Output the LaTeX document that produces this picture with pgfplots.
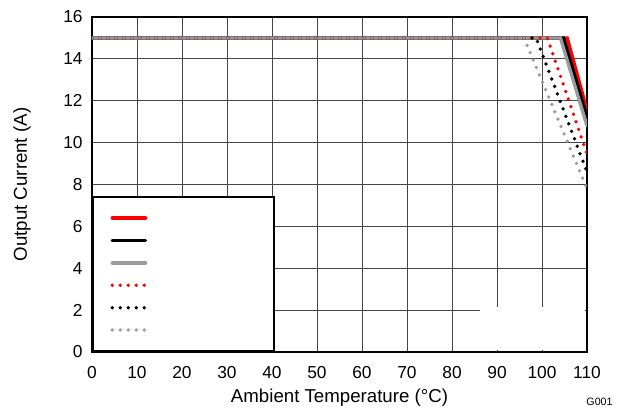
\documentclass[border=0pt]{standalone}
\usepackage{fontspec}
\setmainfont{Liberation Sans}
\usepackage{pgfplots}
\pgfplotsset{compat=1.18}
\definecolor{tigray}{RGB}{155,155,155}
\definecolor{gridc}{RGB}{70,70,70}
\begin{document}
\begin{tikzpicture}
\begin{axis}[
  scale only axis,
  width=371.25pt, height=251.25pt,
  xmin=0, xmax=110, ymin=0, ymax=16,
  xtick={0,10,...,110}, ytick={0,2,...,16},
  grid=major,
  grid style={gridc, line width=0.6pt},
  major tick length=0pt,
  axis line style={line width=1.6pt},
  /pgf/number format/assume math mode=true,
  tick label style={font=\fontsize{13}{15}\selectfont},
  xticklabel style={yshift=-7pt},
  yticklabel style={xshift=-3.5pt},
  label style={font=\fontsize{14}{16}\selectfont},
  xlabel={Ambient Temperature (°C)},
  ylabel={Output Current (A)},
  xlabel style={at={(axis description cs:0.5,-0.1373)}, anchor=center},
  ylabel style={at={(axis description cs:-0.1414,0.5)}, anchor=center},
  legend style={at={(axis cs:0,0)}, anchor=south west, draw=black, line width=1.6pt,
    fill=white, inner xsep=13pt, inner ysep=7.25pt, column sep=0pt, row sep=0pt,
    nodes={inner sep=0pt, text width=81.75pt, minimum height=16.8pt}},
  legend cell align=left,
  legend image code/.code={\draw[#1] (0pt,0pt) -- (25pt,0pt);},
  every axis plot/.append style={line width=2.5pt},
]
\fill[white] (axis cs:86.2,0.08) rectangle (axis cs:109.6,2.15);
\addplot[red, line cap=round] coordinates {(0,15) (105.6,15) (110,11.55)};
\addlegendentry{}
\addplot[black, line cap=round] coordinates {(0,15) (104.8,15) (110,11.2)};
\addlegendentry{}
\addplot[tigray, line cap=round] coordinates {(0,15) (104.1,15) (110,10.8)};
\addlegendentry{}
\addplot[red, line cap=round, line width=2.8pt, dash pattern=on 0pt off 6pt] coordinates {(0,15) (101.2,15) (110,9.45)};
\addlegendentry{}
\addplot[black, line cap=round, line width=2.8pt, dash pattern=on 0pt off 6pt] coordinates {(0,15) (98.7,15) (110,8.6)};
\addlegendentry{}
\addplot[tigray, line cap=round, line width=2.8pt, dash pattern=on 0pt off 6pt] coordinates {(0,15) (96,15) (110,7.8)};
\addlegendentry{}
\end{axis}
\node[font=\fontsize{8}{9}\selectfont, anchor=center] at ([xshift=9.4pt,yshift=-37.5pt]current axis.south east) {G001};
\pgfresetboundingbox
\path ([xshift=-69pt,yshift=-42pt]current axis.south west) rectangle ++(465.75pt,306pt);
\end{tikzpicture}
\end{document}
